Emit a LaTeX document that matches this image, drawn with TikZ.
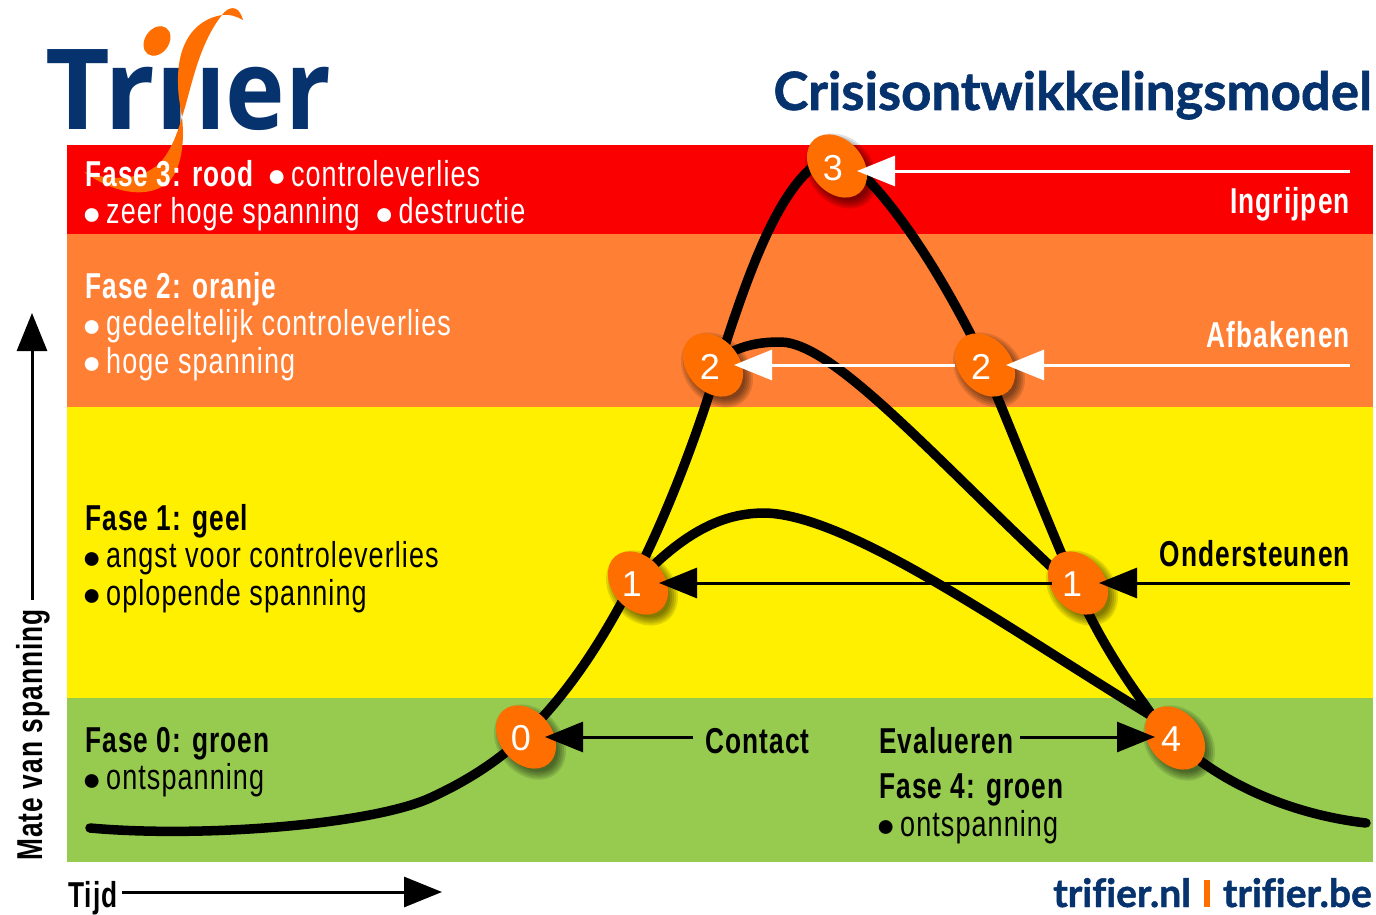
\documentclass[tikz,border=0pt]{standalone}
\usepackage{fontspec}
\setmainfont{Liberation Sans}
\newfontfamily\cond[FakeStretch=0.75,LetterSpace=3,BoldFeatures={FakeStretch=0.73}]{Liberation Sans}
\newfontfamily\brand[Ligatures=NoCommon,BoldFeatures={FakeBold=1.2}]{Lato}
\newfontfamily\logof{Open Sans}
\newfontfamily\logon[FakeStretch=0.9]{Open Sans}
\usetikzlibrary{arrows.meta,shapes.geometric}
\definecolor{navy}{HTML}{06326E}
\definecolor{orangeb}{HTML}{FF6E00}
\definecolor{bandred}{HTML}{FA0000}
\definecolor{bandorange}{HTML}{FF8035}
\definecolor{bandyellow}{HTML}{FFF000}
\definecolor{bandgreen}{HTML}{96CB50}
\tikzset{
  band/.style={fill=#1,draw=none},
  phase/.style={anchor=north west,align=left,inner sep=0pt,font=\cond\fontsize{36}{37.5}\selectfont,text=#1},
  lbl/.style={inner sep=0pt,font=\cond\bfseries\fontsize{36}{37}\selectfont,text=#1},
  badge/.style={ellipse,fill=orangeb,minimum width=70pt,minimum height=52pt,inner sep=0pt,rotate=-50},
  digit/.style={inner sep=0pt,text=white,font=\fontsize{36}{36}\selectfont},
  curve/.style={line width=9.5pt,line cap=round,line join=round},
  arrw/.style={line width=3pt,white,-{Triangle[length=38pt,width=30pt]}},
  arrb/.style={line width=3pt,black,-{Triangle[length=38pt,width=30pt]}},
}
\newcommand{\bul}{\makebox[21pt][l]{\hspace*{-3pt}\smash{\raisebox{-0.5pt}{\normalfont\fontsize{32}{32}\selectfont ●}}}}
\newcommand{\shadowed}[2]{%
  \foreach \g in {8,6,4,2,0}{\fill[black,opacity=.12] (#1+4,#2+5) [rotate around={-50:(#1+4,#2+5)}] ellipse ({33+\g} and {24+\g});}}
\begin{document}
\begin{tikzpicture}[x=1pt,y=-1pt]
\useasboundingbox (0,0) rectangle (1376,915);
\fill[white] (0,0) rectangle (1376,915);
% bands
\fill[band=bandred] (67,145) rectangle (1373,234);
\fill[band=bandorange] (67,234) rectangle (1373,407);
\fill[band=bandyellow] (67,407) rectangle (1373,698);
\fill[band=bandgreen] (67,698) rectangle (1373,862);
% logo
\node[anchor=base west,inner sep=0pt,text=navy,font=\logof\bfseries\fontsize{112}{112}\selectfont] (logoa) at (45,130) {Trı};
\node[anchor=base west,inner sep=0pt,text=navy,font=\logon\bfseries\fontsize{112}{112}\selectfont] (logob) at (195,130) {ıer};
\fill[orangeb] (157,41) [rotate around={-35:(157,41)}] ellipse (12 and 16);
\fill[orangeb] (222,15) .. controls (193,20) and (177,45) .. (178,83)
  .. controls (178,95) and (180,105) .. (182,117)
  .. controls (184,135) and (184,165) .. (169,182)
  .. controls (150,198) and (118,196) .. (84,172)
  .. controls (107,180) and (139,182) .. (160,163)
  .. controls (171,150) and (177,135) .. (182,117)
  .. controls (191,90) and (198,45) .. (222,15)
  .. controls (227,8) and (238,2) .. (243,20)
  .. controls (236,16) and (229,14) .. (222,15) -- cycle;
% title and footer
\node[anchor=base east,inner sep=0pt,text=navy,font=\brand\bfseries\fontsize{52.7}{53}\selectfont] (title) at (1372,110) {Crisisontwikkelingsmodel};
\node[anchor=base east,inner sep=0pt,text=navy,font=\brand\bfseries\fontsize{39}{39}\selectfont] (web) at (1372,907) {trifier.nl\hspace{13pt}\textcolor{orangeb}{\rule{6pt}{27pt}}\hspace{13pt}trifier.be};
% curves
\draw[curve] (90,828) .. controls (200,838) and (370,825) .. (430,798)
  .. controls (465,782) and (495,763) .. (520,740)
  .. controls (565,698) and (600,645) .. (632,583)
  .. controls (665,520) and (695,440) .. (712,385)
  .. controls (740,300) and (770,200) .. (815,165)
  .. controls (835,150) and (855,165) .. (870,182)
  .. controls (910,225) and (945,285) .. (970,333)
  .. controls (1000,400) and (1040,505) .. (1075,585)
  .. controls (1095,630) and (1118,668) .. (1145,705)
  .. controls (1185,765) and (1270,812) .. (1366,823);
\draw[curve] (636,583) .. controls (690,525) and (730,513) .. (765,513)
  .. controls (850,515) and (1010,630) .. (1150,715);
\draw[curve] (712,365) .. controls (735,345) and (760,342) .. (780,342)
  .. controls (835,342) and (940,465) .. (1076,590);
% texts
\node[phase=white] (f3) at (85,160) {\textbf{Fase 3: rood}\hspace{15pt}\bul controleverlies\\\bul zeer hoge spanning\hspace{18pt}\bul destructie};
\node[phase=white] (f2) at (85,272) {\textbf{Fase 2: oranje}\\\bul gedeeltelijk controleverlies\\\bul hoge spanning};
\node[phase=black] (f1) at (85,504) {\textbf{Fase 1: geel}\\\bul angst voor controleverlies\\\bul oplopende spanning};
\node[phase=black] (f0) at (85,727) {\textbf{Fase 0: groen}\\\bul ontspanning};
\node[phase=black] (f4) at (879,774) {\textbf{Fase 4: groen}\\\bul ontspanning};
\node[lbl=white,anchor=base east] (ing) at (1350,213) {Ingrijpen};
\node[lbl=white,anchor=base east] (afb) at (1350,347) {Afbakenen};
\node[lbl=black,anchor=base east] (ond) at (1350,566) {Ondersteunen};
\node[lbl=black,anchor=base west] (con) at (705,753) {Contact};
\node[lbl=black,anchor=base west] (eva) at (879,753) {Evalueren};
% badges
\shadowed{526}{737}\shadowed{638}{583}\shadowed{713}{365}\shadowed{837}{166}\shadowed{985}{365}\shadowed{1078}{583}\shadowed{1175}{738}
\node[badge] (n0) at (526,737) {};
\node[badge] (n1l) at (638,583) {};
\node[badge] (n2l) at (713,365) {};
\node[badge] (n3) at (837,166) {};
\node[badge] (n2r) at (985,365) {};
\node[badge] (n1r) at (1078,583) {};
\node[badge] (n4) at (1175,738) {};
\node[digit] (d0) at (521,738) {0};
\node[digit] (d1l) at (632,584) {1};
\node[digit] (d2l) at (710,367) {2};
\node[digit] (d3) at (833,168) {3};
\node[digit] (d2r) at (981,367) {2};
\node[digit] (d1r) at (1072,584) {1};
\node[digit] (d4) at (1171,739) {4};
% arrows
\coordinate (s3) at (1350,171);
\coordinate (s2) at (1350,365);
\coordinate (s1) at (1350,583);
\coordinate (sc) at (693,737);
\coordinate (se) at (1020,737);
\draw[arrw,shorten >=20pt] (s3) -- (s3 -| n3);
\draw[arrw,shorten >=21pt] (s2) -- (s2 -| n2r);
\draw[arrw,shorten >=21pt] (s2 -| n2r) ++(-30,0) -- (s2 -| n2l);
\draw[arrb,shorten >=21pt] (s1) -- (s1 -| n1r);
\draw[arrb,shorten >=21pt] (s1 -| n1r) ++(-26,0) -- (s1 -| n1l);
\draw[arrb,shorten >=19pt] (sc) -- (sc -| n0);
\draw[arrb,shorten >=20pt] (se) -- (se -| n4);
% axes
\node[lbl=black,rotate=90,anchor=base west] (ymate) at (42,861) {Mate van spanning};
\node[lbl=black,anchor=base west] (xtijd) at (68,907) {Tijd};
\coordinate (ya) at (32,600);
\coordinate (yb) at (32,313);
\coordinate (xa) at (122,892);
\coordinate (xb) at (442,892);
\draw[arrb] (ya) -- (yb);
\draw[arrb] (xa) -- (xb);
\end{tikzpicture}
\end{document}
